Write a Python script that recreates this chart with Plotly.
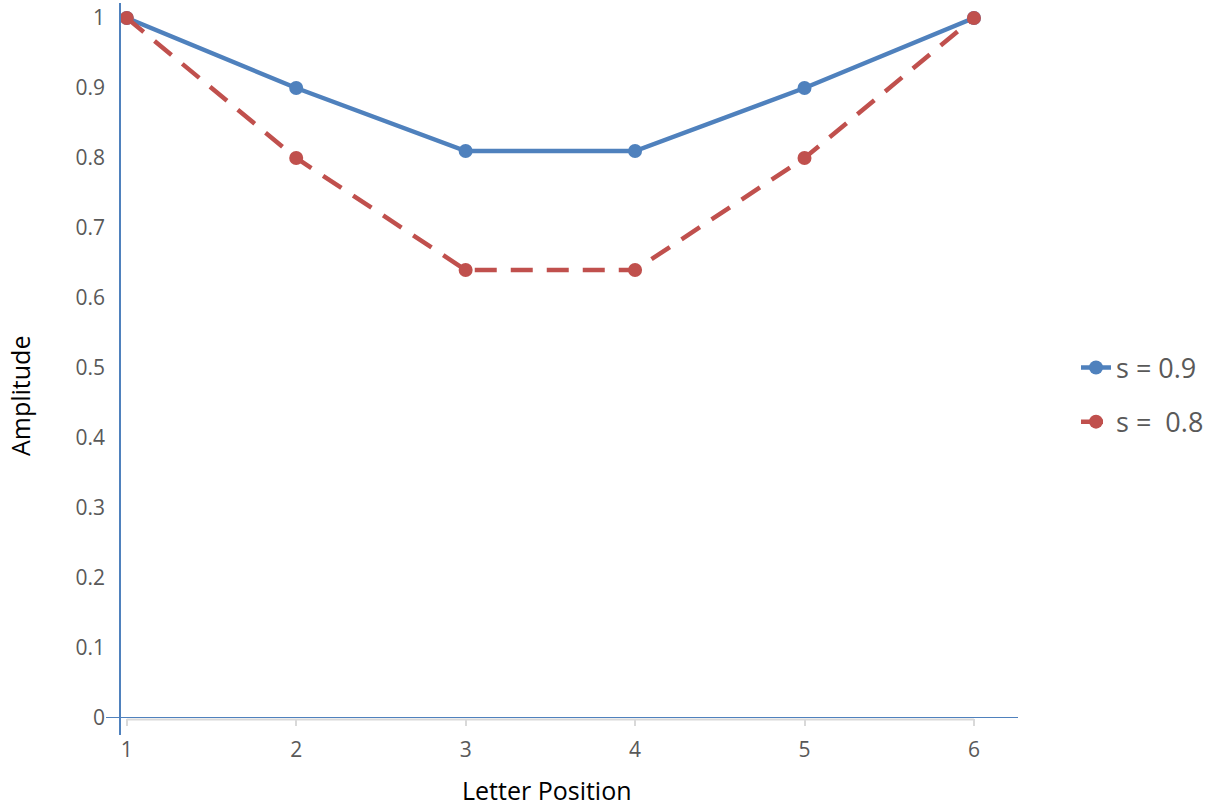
import plotly.graph_objects as go

positions = [1, 2, 3, 4, 5, 6]
s09 = [1.0, 0.9, 0.81, 0.81, 0.9, 1.0]
s08 = [1.0, 0.8, 0.64, 0.64, 0.8, 1.0]
yticks = [0, 0.1, 0.2, 0.3, 0.4, 0.5, 0.6, 0.7, 0.8, 0.9, 1]
yticklabels = ["0", "0.1", "0.2", "0.3", "0.4", "0.5", "0.6", "0.7", "0.8", "0.9", "1"]

BLUE = "#4F81BD"
RED = "#C0504D"
GRAY = "#595959"
FONT = "Open Sans"

fig = go.Figure()
fig.add_trace(go.Scatter(
    x=positions, y=s09, name="s = 0.9", mode="lines+markers",
    line=dict(color=BLUE, width=4.5), marker=dict(size=14, color=BLUE),
    cliponaxis=False, legendgroup="a"))
fig.add_trace(go.Scatter(
    x=positions, y=s08, name="s =  0.8", mode="lines+markers",
    line=dict(color=RED, width=4.5, dash="22px,14px"), marker=dict(size=14, color=RED),
    cliponaxis=False, legendgroup="b"))

# body margin is removed by post_script, so figure pixels == screen pixels
W, H = 1217, 810
LEFT_S, RIGHT_S, TOP_S, BOT_S = 120, 1018, 18, 718
L = LEFT_S
R = W - RIGHT_S
T = TOP_S
B = H - BOT_S
pw = W - L - R
ph = H - T - B
x0 = 0.96
x1 = 6.26

def px_x(p):
    return (p - LEFT_S) / pw

def px_y(p):
    return (BOT_S - p) / ph

fig.update_layout(
    width=W, height=H,
    margin=dict(l=L, r=R, t=T, b=B, autoexpand=False),
    plot_bgcolor="white", paper_bgcolor="white",
    font=dict(family=FONT, color=GRAY, size=21),
    xaxis=dict(
        range=[x0, x1], tickvals=positions, ticktext=[str(p) for p in positions],
        showgrid=False, zeroline=False, showline=False, automargin=False,
        ticks="outside", ticklen=7, tickwidth=2, tickcolor="#D9D9D9",
        ticklabelstandoff=6, ticklabeloverflow="allow",
        tickfont=dict(size=21, color=GRAY, family=FONT),
    ),
    yaxis=dict(
        range=[0, 1], tickvals=yticks, ticktext=yticklabels,
        showgrid=False, zeroline=False, showline=False, ticks="", automargin=False,
        ticklabelstandoff=14, ticklabeloverflow="allow",
        tickfont=dict(size=21, color=GRAY, family=FONT),
    ),
    legend=dict(
        x=px_x(1076), y=px_y(395), xanchor="left", yanchor="middle",
        font=dict(size=27, color=GRAY, family=FONT),
        tracegroupgap=16, bgcolor="rgba(0,0,0,0)",
    ),
    annotations=[
        dict(text="Letter Position", xref="paper", yref="paper",
             x=px_x(547), y=px_y(809), xanchor="center", yanchor="bottom",
             showarrow=False, font=dict(size=25, color="#000000", family=FONT)),
        dict(text="Amplitude", xref="paper", yref="paper", textangle=-90,
             x=px_x(20), y=px_y(396), xanchor="center", yanchor="middle",
             showarrow=False, font=dict(size=25, color="#000000", family=FONT)),
    ],
    shapes=[
        # gray category axis line
        dict(type="line", xref="x", yref="paper", x0=1, x1=6, y0=px_y(719.5), y1=px_y(719.5),
             line=dict(color="#D9D9D9", width=2), layer="below"),
        # blue horizontal axis line
        dict(type="line", xref="paper", yref="y", x0=px_x(106), x1=px_x(1018), y0=0, y1=0,
             line=dict(color=BLUE, width=2), layer="above"),
        # blue vertical axis line
        dict(type="line", xref="paper", yref="paper", x0=0, x1=0, y0=px_y(735), y1=px_y(3),
             line=dict(color=BLUE, width=2), layer="above"),
    ],
)

fig.write_html("out.html", config={"displayModeBar": False},
               post_script="document.body.style.margin='0';")
